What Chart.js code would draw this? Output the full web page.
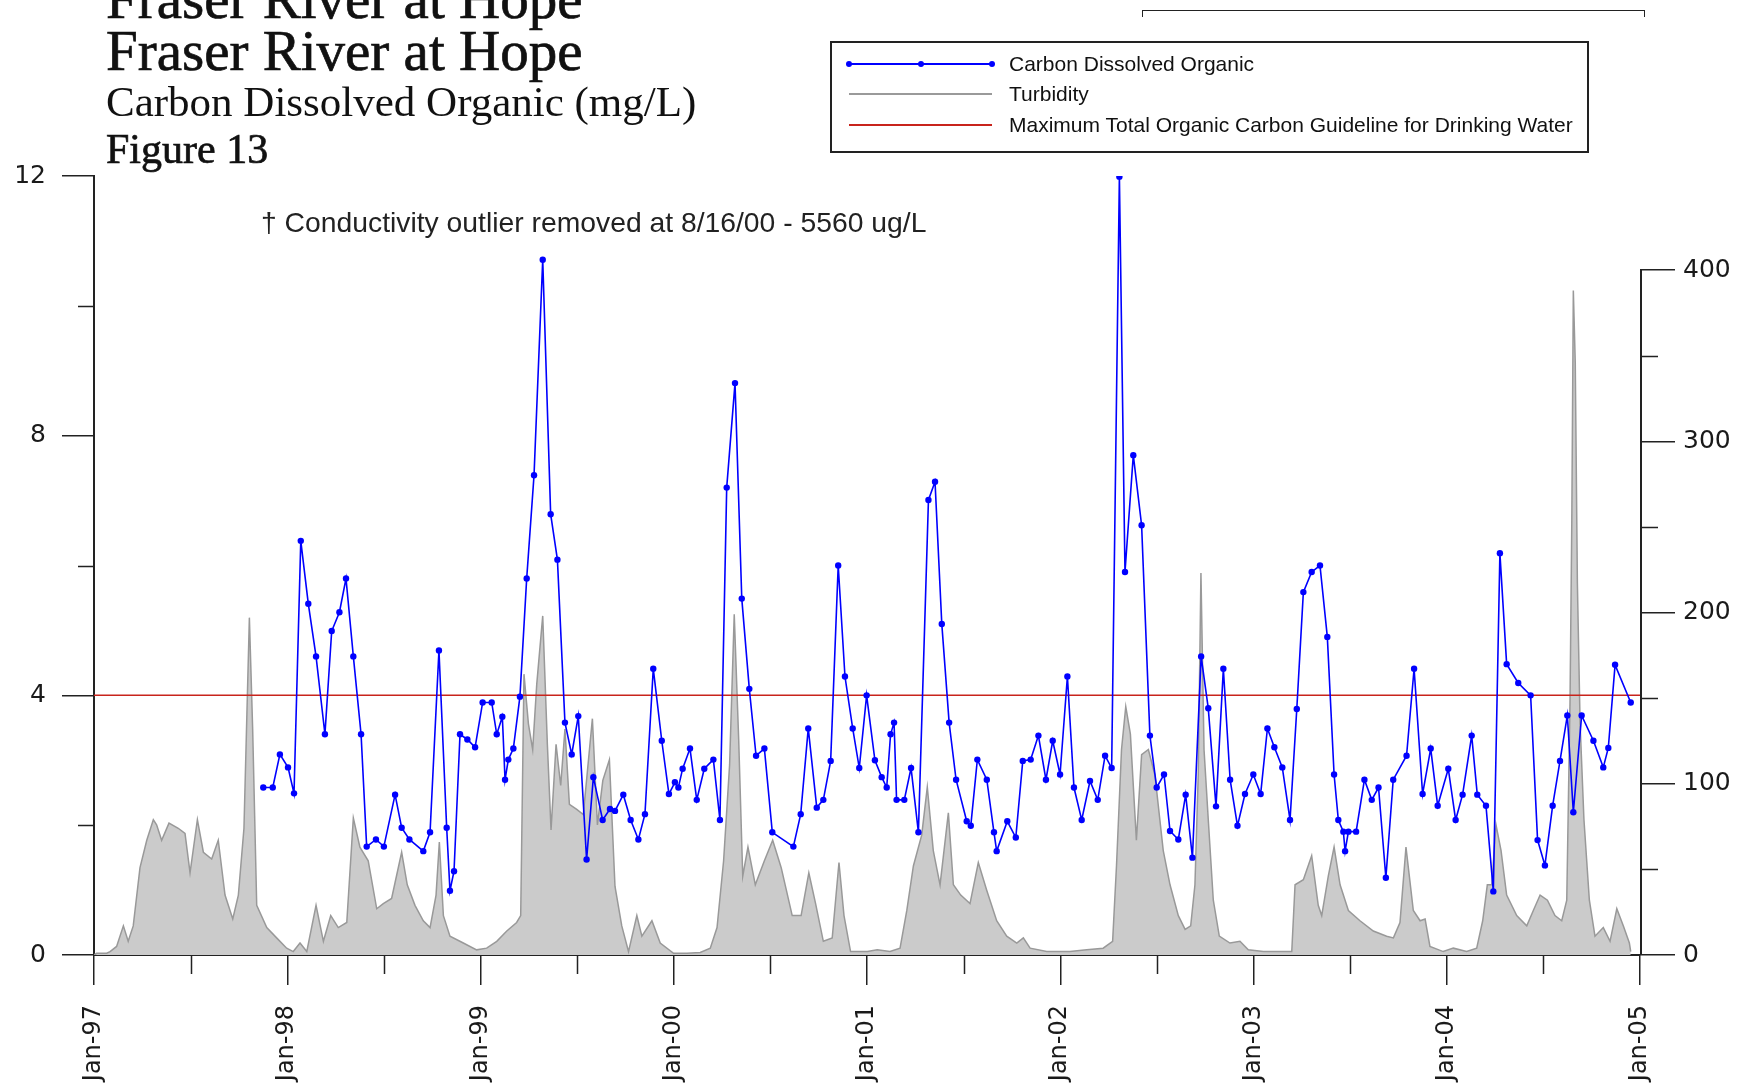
<!DOCTYPE html>
<html>
<head>
<meta charset="utf-8">
<script src="https://cdn.jsdelivr.net/npm/chart.js@4.4.1/dist/chart.umd.min.js"></script>
<style>
html,body{margin:0;padding:0;background:#fff;}
#wrap{position:relative;width:1756px;height:1083px;overflow:hidden;background:#fff;}
canvas{position:absolute;left:0;top:0;}
.serif{position:absolute;font-family:'Liberation Serif','Times New Roman',serif;line-height:1;white-space:nowrap;color:#111;}
.heavy{-webkit-text-stroke:0.7px #111;}
.sans{position:absolute;font-family:'Liberation Sans',Arial,sans-serif;line-height:1;white-space:nowrap;color:#111;}
#legend{position:absolute;left:830px;top:41px;width:755px;height:108px;border:2px solid #222;}
.sym{position:absolute;height:0;}
.dot{position:absolute;width:6px;height:6px;border-radius:50%;background:#0000ff;}
#bracket{position:absolute;left:1142px;top:10px;width:501px;height:6px;border:1.5px solid #222;border-bottom:none;}
</style>
</head>
<body>
<div id="wrap">
<canvas id="c" width="1756" height="1083"></canvas>
<div class="serif heavy" style="left:106px;top:-30px;font-size:57px;">Fraser River at Hope</div>
<div class="serif heavy" style="left:106px;top:22px;font-size:57px;">Fraser River at Hope</div>
<div class="serif" style="left:106px;top:80px;font-size:43px;">Carbon Dissolved Organic (mg/L)</div>
<div class="serif heavy" style="left:106px;top:128px;font-size:42px;">Figure 13</div>
<div class="sans" style="left:261px;top:208px;font-size:28.3px;color:#222;">† Conductivity outlier removed at 8/16/00 - 5560 ug/L</div>
<div id="bracket"></div>
<div id="legend">
  <div class="sym" style="left:17px;top:20px;width:143px;border-top:2px solid #0000ff;"></div>
  <div class="dot" style="left:14px;top:18px;"></div>
  <div class="dot" style="left:86px;top:18px;"></div>
  <div class="dot" style="left:157px;top:18px;"></div>
  <div class="sans" style="left:177px;top:10px;font-size:21px;">Carbon Dissolved Organic</div>
  <div class="sym" style="left:17px;top:50px;width:143px;border-top:2px solid #9a9a9a;"></div>
  <div class="sans" style="left:177px;top:40px;font-size:21px;">Turbidity</div>
  <div class="sym" style="left:17px;top:81px;width:143px;border-top:2px solid #c8241c;"></div>
  <div class="sans" style="left:177px;top:71px;font-size:21px;">Maximum Total Organic Carbon Guideline for Drinking Water</div>
</div>
</div>
<script>
// ---- data (decimal year = sample date) ----
const docYear = [
1997.876,1997.925,1997.962,1998.004,1998.035,1998.070,1998.109,1998.149,1998.195,1998.230,
1998.270,1998.304,1998.342,1998.382,1998.411,1998.459,1998.500,1998.558,1998.592,1998.632,
1998.704,1998.739,1998.785,1998.825,1998.842,1998.863,1998.894,1998.932,1998.972,1999.011,
1999.058,1999.084,1999.113,1999.127,1999.144,1999.170,1999.204,1999.239,1999.277,1999.322,
1999.363,1999.398,1999.437,1999.472,1999.506,1999.549,1999.584,1999.632,1999.670,1999.696,
1999.739,1999.777,1999.817,1999.851,1999.894,1999.938,1999.975,2000.006,2000.024,2000.046,
2000.084,2000.119,2000.158,2000.205,2000.239,2000.274,2000.317,2000.352,2000.391,2000.426,
2000.469,2000.510,2000.619,2000.657,2000.696,2000.740,2000.774,2000.812,2000.851,2000.886,
2000.926,2000.960,2000.998,2001.041,2001.076,2001.102,2001.122,2001.140,2001.153,2001.193,
2001.228,2001.266,2001.318,2001.352,2001.387,2001.425,2001.461,2001.516,2001.537,2001.571,
2001.620,2001.657,2001.671,2001.726,2001.770,2001.806,2001.847,2001.887,2001.926,2001.961,
2001.999,2002.037,2002.071,2002.111,2002.154,2002.194,2002.232,2002.266,2002.306,2002.335,
2002.378,2002.421,2002.464,2002.499,2002.537,2002.568,2002.611,2002.649,2002.684,2002.729,
2002.766,2002.806,2002.844,2002.879,2002.917,2002.956,2002.999,2003.037,2003.072,2003.108,
2003.149,2003.189,2003.224,2003.258,2003.301,2003.344,2003.382,2003.417,2003.439,2003.465,
2003.474,2003.491,2003.531,2003.574,2003.612,2003.647,2003.685,2003.723,2003.792,2003.831,
2003.875,2003.917,2003.953,2004.008,2004.046,2004.082,2004.129,2004.158,2004.203,2004.241,
2004.275,2004.310,2004.370,2004.434,2004.470,2004.508,2004.548,2004.586,2004.624,2004.655,
2004.698,2004.759,2004.810,2004.836,2004.871,2004.952];
const docValue = [
2.58,2.58,3.09,2.89,2.49,6.38,5.41,4.60,3.40,4.99,
5.28,5.80,4.60,3.40,1.67,1.78,1.67,2.47,1.96,1.78,
1.60,1.89,4.69,1.96,0.99,1.29,3.40,3.32,3.20,3.89,
3.89,3.40,3.67,2.70,3.01,3.18,3.98,5.80,7.39,10.71,
6.79,6.09,3.58,3.09,3.68,1.47,2.74,2.08,2.25,2.22,
2.47,2.08,1.78,2.17,4.41,3.30,2.48,2.66,2.58,2.87,
3.18,2.39,2.87,3.01,2.08,7.20,8.81,5.49,4.10,3.07,
3.18,1.89,1.67,2.17,3.49,2.27,2.39,2.99,6.00,4.29,
3.49,2.88,4.00,3.00,2.74,2.58,3.40,3.58,2.39,2.39,
2.88,1.89,7.01,7.29,5.10,3.58,2.70,2.06,1.99,3.01,
2.70,1.89,1.60,2.06,1.81,2.99,3.01,3.38,2.70,3.30,
2.78,4.29,2.58,2.08,2.68,2.39,3.07,2.88,11.99,5.90,
7.70,6.62,3.38,2.58,2.78,1.91,1.78,2.47,1.50,4.60,
3.80,2.29,4.41,2.70,1.99,2.48,2.78,2.48,3.49,3.20,
2.89,2.08,3.79,5.59,5.90,6.00,4.90,2.78,2.08,1.90,
1.60,1.90,1.90,2.70,2.39,2.58,1.19,2.70,3.07,4.41,
2.48,3.18,2.30,2.87,2.08,2.47,3.38,2.47,2.30,0.98,
6.19,4.48,4.19,4.00,1.77,1.38,2.30,2.99,3.69,2.20,
3.69,3.30,2.89,3.19,4.47,3.89];
const turbYear = [
1997.000,1997.014,1997.066,1997.083,1997.117,1997.152,1997.177,1997.203,1997.238,1997.273,
1997.307,1997.324,1997.350,1997.388,1997.436,1997.471,1997.497,1997.535,1997.566,1997.609,
1997.643,1997.678,1997.718,1997.747,1997.776,1997.804,1997.821,1997.842,1997.894,1997.945,
1997.997,1998.031,1998.066,1998.101,1998.149,1998.187,1998.225,1998.264,1998.308,1998.342,
1998.376,1998.419,1998.463,1998.497,1998.540,1998.592,1998.621,1998.661,1998.704,1998.739,
1998.770,1998.787,1998.808,1998.842,1998.911,1998.980,1999.032,1999.084,1999.136,1999.187,
1999.208,1999.225,1999.248,1999.270,1999.291,1999.322,1999.346,1999.365,1999.391,1999.415,
1999.437,1999.460,1999.498,1999.532,1999.579,1999.605,1999.633,1999.667,1999.696,1999.731,
1999.766,1999.809,1999.835,1999.887,1999.930,1999.999,2000.068,2000.137,2000.189,2000.224,
2000.258,2000.289,2000.313,2000.336,2000.357,2000.384,2000.422,2000.469,2000.512,2000.556,
2000.613,2000.659,2000.699,2000.734,2000.774,2000.820,2000.855,2000.881,2000.915,2001.002,
2001.053,2001.119,2001.171,2001.206,2001.240,2001.283,2001.312,2001.343,2001.378,2001.421,
2001.447,2001.485,2001.533,2001.576,2001.619,2001.671,2001.723,2001.775,2001.809,2001.844,
2001.930,2002.050,2002.137,2002.222,2002.271,2002.291,2002.317,2002.339,2002.363,2002.394,
2002.421,2002.456,2002.490,2002.533,2002.568,2002.611,2002.646,2002.675,2002.697,2002.714,
2002.728,2002.744,2002.766,2002.792,2002.823,2002.878,2002.930,2002.973,2003.051,2003.154,
2003.198,2003.215,2003.258,2003.301,2003.335,2003.353,2003.387,2003.417,2003.448,2003.491,
2003.551,2003.620,2003.689,2003.724,2003.758,2003.789,2003.827,2003.862,2003.888,2003.913,
2003.982,2004.034,2004.103,2004.155,2004.186,2004.210,2004.233,2004.255,2004.281,2004.310,
2004.362,2004.414,2004.448,2004.483,2004.521,2004.560,2004.595,2004.621,2004.638,2004.647,
2004.655,2004.665,2004.676,2004.690,2004.710,2004.738,2004.767,2004.810,2004.845,2004.880,
2004.914,2004.945,2004.952];
const turbValue = [
0,1,1,2,5,17,8,17,51,67,
79,76,67,77,74,71,48,79,60,56,
67,35,21,35,74,197,132,29,16,10,
4,2,7,2,29,8,23,16,19,80,
63,55,27,30,33,60,41,29,20,16,
35,66,23,11,7,3,4,8,14,19,
23,164,135,120,158,198,123,73,123,99,
132,88,85,82,138,76,102,114,40,17,
2,23,11,20,7,1,1,1.5,4,16,
55,111,199,126,46,63,41,55,67,51,
23,23,48,30,8,10,54,23,2,2,
3,2,4,26,52,70,98,61,41,83,
41,35,30,54,38,20,11,7,10,4,
2,2,3,4,8,52,120,145,129,67,
117,120,105,61,41,23,15,17,41,105,
223,120,79,32,11,7,8,3,2,2,
2,41,44,58,29,23,46,63,41,26,
20,14,11,10,19,63,26,20,21,5,
2,4,2,4,20,41,41,76,61,35,
23,17,26,35,32,23,20,32,149,252,
388,346,217,135,79,32,11,16,8,27,
17,7,2];
const guidelineValue = 4;
const yearTicks = [1997,1998,1999,2000,2001,2002,2003,2004,2005];
const yearLabels = ['Jan-97','Jan-98','Jan-99','Jan-00','Jan-01','Jan-02','Jan-03','Jan-04','Jan-05'];
const midYearTicks = [1997.5,1998.5,1999.5,2000.5,2001.5,2002.5,2003.5,2004.5];
const docTicks = [0,4,8,12];
const docMinorTicks = [2,6,10];
const turbTicks = [0,100,200,300,400];
const turbMinorTicks = [50,150,250,350];

const docData = docYear.map((x,i)=>({x:x, y:docValue[i]}));
const turbData = turbYear.map((x,i)=>({x:x, y:turbValue[i]}));
const guideData = [{x:yearTicks[0], y:guidelineValue},{x:yearTicks[yearTicks.length-1], y:guidelineValue}];

const axisColor = '#222';
const minorTickPlugin = {
  id:'minorTicks',
  afterDraw(chart){
    const {ctx} = chart; const sx = chart.scales.x, sy = chart.scales.y, sy2 = chart.scales.y2;
    ctx.save();
    ctx.strokeStyle = axisColor; ctx.lineWidth = 1.5;
    ctx.beginPath();
    docMinorTicks.forEach(v=>{const p=Math.round(sy.getPixelForValue(v))+0.5; ctx.moveTo(sy.right-16,p); ctx.lineTo(sy.right,p);});
    turbMinorTicks.forEach(v=>{const p=Math.round(sy2.getPixelForValue(v))+0.5; ctx.moveTo(sy2.left,p); ctx.lineTo(sy2.left+18,p);});
    midYearTicks.forEach(v=>{const p=Math.round(sx.getPixelForValue(v))+0.5; ctx.moveTo(p,sx.top); ctx.lineTo(p,sx.top+19);});
    ctx.stroke();
    ctx.lineWidth = 2;
    ctx.beginPath();
    ctx.moveTo(sy2.left+1, sy2.getPixelForValue(turbTicks[0]));
    ctx.lineTo(sy2.left+1, sy2.getPixelForValue(turbTicks[turbTicks.length-1]));
    ctx.stroke();
    ctx.restore();
  }
};

const tickFont = {family:"'DejaVu Sans', sans-serif", size:25};
new Chart(document.getElementById('c'), {
  type:'line',
  data:{ datasets:[
    {label:'Turbidity', data:turbData, yAxisID:'y2', borderColor:'#999999', backgroundColor:'#cbcbcb',
     borderWidth:1.5, fill:'origin', pointRadius:0, tension:0, order:3},
    {label:'Maximum Total Organic Carbon Guideline for Drinking Water', data:guideData, yAxisID:'y',
     borderColor:'#c8241c', borderWidth:1.5, pointRadius:0, fill:false, order:2},
    {label:'Carbon Dissolved Organic', data:docData, yAxisID:'y', borderColor:'#0000ff', backgroundColor:'#0000ff',
     borderWidth:1.6, pointRadius:3.2, pointBorderWidth:0, fill:false, tension:0, order:1}
  ]},
  options:{
    responsive:false, animation:false, devicePixelRatio:1,
    layout:{padding:{top:176,left:0,right:0,bottom:0}},
    plugins:{legend:{display:false}, tooltip:{enabled:false}, title:{display:false}},
    scales:{
      x:{type:'linear', position:'bottom', min:yearTicks[0], max:yearTicks[yearTicks.length-1],
         afterBuildTicks:s=>{s.ticks = yearTicks.map(v=>({value:v}));},
         afterFit:s=>{s.height = 128;},
         ticks:{autoSkip:false, minRotation:90, maxRotation:90, padding:20, color:'#1a1a1a',
                font:{family:"'DejaVu Sans', sans-serif", size:24},
                callback:(v,i)=>yearLabels[i]},
         grid:{drawOnChartArea:false, drawTicks:true, tickLength:30, color:axisColor, tickColor:axisColor, lineWidth:1.5},
         border:{display:true, color:axisColor, width:2}},
      y:{type:'linear', position:'left', min:0, max:12,
         afterBuildTicks:s=>{s.ticks = docTicks.map(v=>({value:v}));},
         afterFit:s=>{s.width = 94;},
         ticks:{padding:16, color:'#1a1a1a', font:tickFont},
         grid:{drawOnChartArea:false, drawTicks:true, tickLength:32, color:axisColor, tickColor:axisColor, lineWidth:1.5},
         border:{display:true, color:axisColor, width:2}},
      y2:{type:'linear', position:'right', min:0, max:454.9,
         afterBuildTicks:s=>{s.ticks = turbTicks.map(v=>({value:v}));},
         afterFit:s=>{s.width = 116;},
         ticks:{padding:8, color:'#1a1a1a', font:tickFont},
         grid:{drawOnChartArea:false, drawTicks:true, tickLength:35, color:axisColor, tickColor:axisColor, lineWidth:1.5},
         border:{display:false}}
    }
  },
  plugins:[minorTickPlugin]
});
</script>
</body>
</html>
